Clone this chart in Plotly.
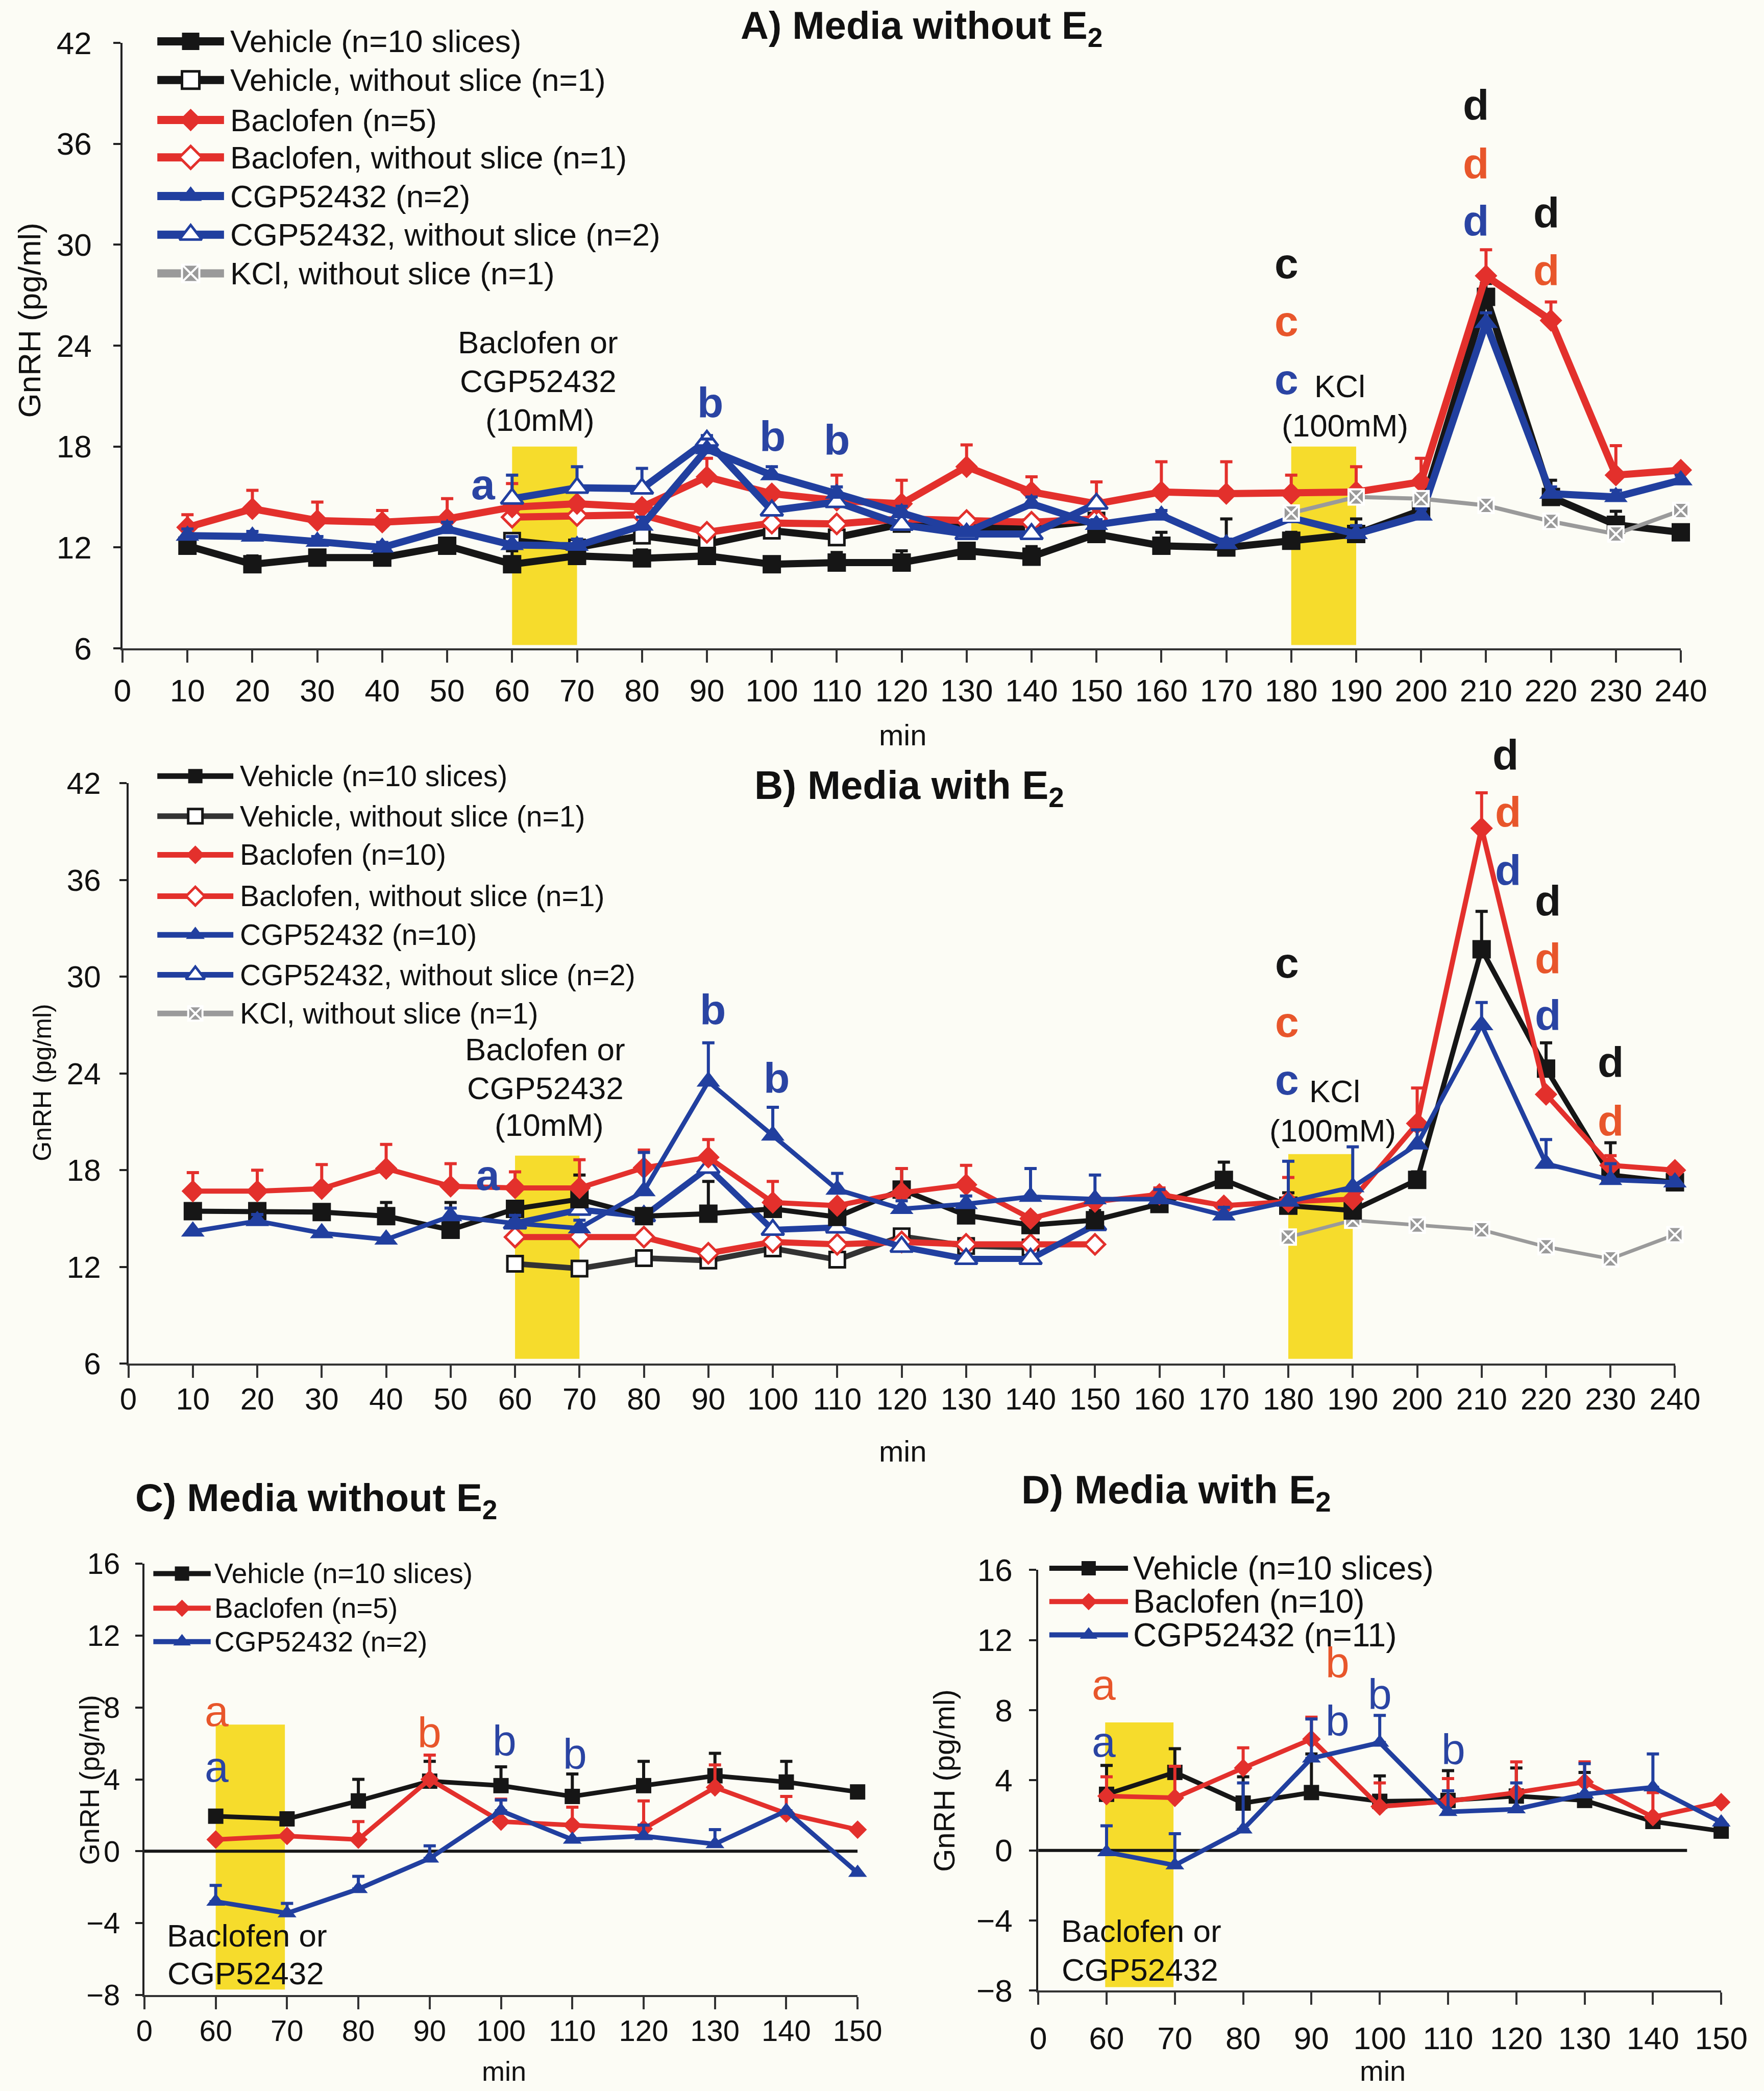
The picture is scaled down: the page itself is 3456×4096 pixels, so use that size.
import plotly.graph_objects as go

# ---------------------------------------------------------------- data
minutes_ab = list(range(10, 250, 10))          # 10 ... 240 min
minutes_ns = list(range(60, 160, 10))          # 60 ... 150 min (media without slice)
minutes_kcl = list(range(180, 250, 10))        # 180 ... 240 min
b_minutes_vns = list(range(60, 150, 10))       # 60 ... 140 min

# A) media without E2
a_vehicle = [12.1, 11.0, 11.4, 11.4, 12.1, 11.0, 11.5, 11.35, 11.5, 11.0, 11.1, 11.1,
             11.8, 11.45, 12.8, 12.1, 12.0, 12.4, 12.8, 14.2, 26.9, 15.0, 13.35, 12.9]
a_vehicle_err = [0.3, 0.5, 0.3, 0.3, 0.4, 0.8, 0.4, 0.5, 0.4, 0.4, 0.6, 0.7,
                 0.4, 0.6, 0.4, 0.8, 1.7, 0.5, 0.9, 1.0, 0.8, 1.0, 0.8, 0.4]
a_baclofen = [13.2, 14.3, 13.6, 13.5, 13.7, 14.4, 14.6, 14.4, 16.2, 15.2, 14.8, 14.6,
              16.8, 15.3, 14.6, 15.3, 15.2, 15.2, 15.3, 15.9, 28.15, 25.5, 16.3, 16.6]
a_baclofen_err = [0.75, 1.1, 1.1, 0.7, 1.2, 1.4, None, None, 1.1, None, 1.5, 1.4,
                  1.3, 0.9, 1.3, 1.8, 1.9, 1.1, 1.5, 1.4, 1.55, 1.1, 1.75, None]
a_cgp = [12.7, 12.65, 12.35, 12.0, 13.1, 12.15, 12.1, 13.3, 17.85, 16.3, 15.2, 14.05,
         12.9, 14.6, 13.35, 13.9, 12.2, 13.75, 12.8, 13.9, 25.35, 15.2, 15.0, 16.0]
a_cgp_err = [0.4, 0.3, 0.3, 0.3, 0.4, 0.5, 0.4, 0.5, 0.6, 0.5, 0.4, 0.4,
             0.3, 0.4, 0.3, 0.3, 0.3, 0.3, 0.5, 0.4, 0.6, 0.4, 0.4, 0.3]
a_vehicle_ns = [12.4, 12.0, 12.7, 12.2, 13.0, 12.6, 13.4, 13.2, 13.2, 13.6]
a_baclofen_ns = [13.8, 13.9, 13.95, 12.9, 13.45, 13.4, 13.7, 13.6, 13.5, 13.7]
a_cgp_ns = [14.9, 15.55, 15.5, 18.35, 14.2, 14.7, 13.35, 12.8, 12.8, 14.6]
a_cgp_ns_err = [1.4, 1.25, 1.2, 0.3, None, 0.3, None, None, None, None]
a_kcl = [14.05, 15.0, 14.9, 14.5, 13.55, 12.8, 14.2]

# B) media with E2
b_vehicle = [15.46, 15.46, 15.4, 15.15, 14.3, 15.6, 16.2, 15.15, 15.3, 15.6, 15.1, 16.8,
             15.2, 14.6, 14.9, 15.9, 17.4, 15.8, 15.5, 17.4, 31.7, 24.3, 17.7, 17.25]
b_vehicle_err = [0.3, 0.3, 0.3, 0.85, 1.7, 0.3, 1.5, 0.3, 2.0, 0.5, 0.4, 1.3,
                 0.5, 0.4, 0.6, 0.5, 1.1, 0.8, 0.6, 0.5, 2.35, 1.6, 2.0, 0.3]
b_baclofen = [16.7, 16.7, 16.85, 18.1, 17.0, 16.9, 16.9, 18.15, 18.8, 16.0, 15.8, 16.6,
              17.1, 15.0, 16.05, 16.5, 15.8, 16.05, 16.2, 20.9, 39.2, 22.7, 18.3, 18.0]
b_baclofen_err = [1.15, 1.3, 1.5, 1.5, 1.4, 1.0, 1.75, 1.1, 1.1, 1.3, None, 1.5,
                  1.2, None, None, 0.4, None, 1.5, None, 2.2, 2.2, None, 0.6, None]
b_cgp = [14.2, 14.85, 14.1, 13.7, 15.15, 14.7, 14.4, 16.7, 23.5, 20.15, 16.8, 15.6,
         15.9, 16.35, 16.2, 16.2, 15.2, 16.05, 16.95, 19.6, 27.0, 18.4, 17.4, 17.25]
b_cgp_err = [None, 0.4, None, None, 0.5, 0.5, 0.5, 2.4, 2.4, 1.75, 1.0, 0.5,
             0.5, 1.75, 1.5, 0.6, 0.5, 2.5, 2.5, 0.9, 1.4, 1.5, 1.0, 0.3]
b_vehicle_ns = [12.2, 11.9, 12.55, 12.4, 13.15, 12.45, 13.9, 13.3, 13.2]
b_baclofen_ns = [13.85, 13.85, 13.85, 12.85, 13.55, 13.4, 13.55, 13.4, 13.4, 13.4]
b_cgp_ns = [14.7, 15.55, 15.15, 18.15, 14.3, 14.45, 13.25, 12.5, 12.5, 14.6]
b_kcl = [13.85, 14.9, 14.6, 14.3, 13.25, 12.5, 14.0]

# C) / D) baseline-subtracted release, 60 ... 150 min
cd_ticks = ["0", "60", "70", "80", "90", "100", "110", "120", "130", "140", "150"]
cd_minutes = ["60", "70", "80", "90", "100", "110", "120", "130", "140", "150"]
c_vehicle = [1.95, 1.8, 2.8, 3.9, 3.65, 3.05, 3.65, 4.2, 3.85, 3.3]
c_vehicle_err = [0.3, 0.3, 1.2, 1.1, 1.05, 1.25, 1.35, 1.25, 1.15, 0.3]
c_baclofen = [0.65, 0.85, 0.65, 4.0, 1.65, 1.45, 1.25, 3.55, 2.1, 1.2]
c_baclofen_err = [None, None, 1.0, 1.35, 1.25, 1.0, 1.55, 1.25, 0.95, None]
c_cgp = [-2.8, -3.45, -2.1, -0.4, 2.25, 0.65, 0.85, 0.4, 2.25, -1.2]
c_cgp_err = [0.9, 0.55, 0.7, 0.7, 0.6, None, 0.6, 0.8, None, None]
d_vehicle = [3.2, 4.45, 2.7, 3.3, 2.8, 2.85, 3.1, 2.85, 1.65, 1.1]
d_vehicle_err = [1.65, 1.35, 1.5, 2.2, 1.45, 1.7, 1.6, 1.6, None, None]
d_baclofen = [3.1, 3.0, 4.7, 6.35, 2.5, 2.8, 3.3, 3.9, 1.9, 2.75]
d_baclofen_err = [1.1, 1.8, 1.15, 1.25, 1.35, 1.3, 1.75, 1.15, 1.4, None]
d_cgp = [-0.1, -0.85, 1.2, 5.25, 6.15, 2.2, 2.35, 3.2, 3.6, 1.6]
d_cgp_err = [1.5, 1.8, 2.65, 2.25, 1.55, 1.2, 1.5, 1.75, 1.9, None]

# ---------------------------------------------------------------- style
FONT = "Liberation Sans, Arial, Helvetica, sans-serif"
BLACK = "#161616"
RED = "#e3302c"
BLUE = "#213f9f"
GRAY = "#9a9a9a"
YELLOW = "#f6dc2c"
LRED = "#e8562b"
LBLUE = "#2a44a3"
WHITE = "#ffffff"
BG = "#fcfcf5"

W, H = 3456, 4096
GW, GH = 1323.0, 1568.0          # layout grid for panel frames, keys and titles


def gx(v):
    return v / GW


def gy(v):
    return 1 - v / GH


fig = go.Figure()


def series(x, y, err, xa, ya, color, symbol, size, lw, fill=None, mlw=0, mlc=None,
           lcolor=None):
    ey = None
    if err is not None:
        ey = dict(type="data", symmetric=False, array=err, arrayminus=[0] * len(err),
                  color=color, thickness=6, width=12)
    fig.add_trace(go.Scatter(
        x=x, y=y, xaxis=xa, yaxis=ya, mode="lines+markers", showlegend=False,
        cliponaxis=False,
        line=dict(color=lcolor or color, width=lw),
        marker=dict(symbol=symbol, size=size, color=fill or color,
                    line=dict(color=mlc or color, width=mlw)),
        error_y=ey))


# ---- panel A
series(minutes_ns, a_vehicle_ns, None, "x", "y", BLACK, "square", 30, 14, WHITE, 5)
series(minutes_ns, a_baclofen_ns, None, "x", "y", RED, "diamond", 30, 14, WHITE, 5)
series(minutes_ab, a_vehicle, a_vehicle_err, "x", "y", BLACK, "square", 36, 14)
series(minutes_ab, a_baclofen, a_baclofen_err, "x", "y", RED, "diamond", 34, 14)
series(minutes_ns, a_cgp_ns, a_cgp_ns_err, "x", "y", BLUE, "triangle-up", 38, 14, WHITE, 5)
series(minutes_ab, a_cgp, a_cgp_err, "x", "y", BLUE, "triangle-up", 40, 14)
series(minutes_kcl, a_kcl, None, "x", "y", GRAY, "square-x", 30, 8, GRAY, 4, WHITE)

# ---- panel B
series(b_minutes_vns, b_vehicle_ns, None, "x2", "y2", "#333333", "square", 30, 11, WHITE, 5, BLACK)
series(minutes_ns, b_baclofen_ns, None, "x2", "y2", RED, "diamond", 30, 12, WHITE, 5)
series(minutes_ns, b_cgp_ns, None, "x2", "y2", BLUE, "triangle-up", 38, 12, WHITE, 5)
series(minutes_kcl, b_kcl, None, "x2", "y2", GRAY, "square-x", 30, 7, GRAY, 4, WHITE)
series(minutes_ab, b_vehicle, b_vehicle_err, "x2", "y2", BLACK, "square", 36, 10)
series(minutes_ab, b_baclofen, b_baclofen_err, "x2", "y2", RED, "diamond", 34, 10)
series(minutes_ab, b_cgp, b_cgp_err, "x2", "y2", BLUE, "triangle-up", 40, 9)

# ---- panel C
series(cd_minutes, c_vehicle, c_vehicle_err, "x3", "y3", BLACK, "square", 30, 9)
series(cd_minutes, c_baclofen, c_baclofen_err, "x3", "y3", RED, "diamond", 28, 9)
series(cd_minutes, c_cgp, c_cgp_err, "x3", "y3", BLUE, "triangle-up", 32, 9)

# ---- panel D
series(cd_minutes, d_vehicle, d_vehicle_err, "x4", "y4", BLACK, "square", 30, 9)
series(cd_minutes, d_baclofen, d_baclofen_err, "x4", "y4", RED, "diamond", 28, 9)
series(cd_minutes, d_cgp, d_cgp_err, "x4", "y4", BLUE, "triangle-up", 32, 9)

# ---------------------------------------------------------------- keys
annotations = []


def key(x0, x1, yrow, label, fsize, color, symbol, size, lw, fill=None, mlw=0, mlc=None,
        lcolor=None, tx=None):
    fig.add_trace(go.Scatter(x=[x0, x1], y=[yrow, yrow], xaxis="x5", yaxis="y5",
                             mode="lines", showlegend=False, hoverinfo="skip",
                             line=dict(color=lcolor or color, width=lw)))
    fig.add_trace(go.Scatter(x=[(x0 + x1) / 2], y=[yrow], xaxis="x5", yaxis="y5",
                             mode="markers", showlegend=False, hoverinfo="skip",
                             marker=dict(symbol=symbol, size=size, color=fill or color,
                                         line=dict(color=mlc or color, width=mlw))))
    annotations.append(dict(x=tx if tx is not None else x1 + 4, y=yrow, xref="x5", yref="y5",
                            text=label, showarrow=False, xanchor="left", yanchor="middle",
                            font=dict(family=FONT, size=fsize, color="#111111")))


full_keys = [
    ("Vehicle (n=10 slices)", BLACK, "square", None, 0, None, None),
    ("Vehicle, without slice (n=1)", BLACK, "square", WHITE, 5, None, None),
    ("Baclofen (n=5)", RED, "diamond", None, 0, None, None),
    ("Baclofen, without slice (n=1)", RED, "diamond", WHITE, 5, None, None),
    ("CGP52432 (n=2)", BLUE, "triangle-up", None, 0, None, None),
    ("CGP52432, without slice (n=2)", BLUE, "triangle-up", WHITE, 5, None, None),
    ("KCl, without slice (n=1)", GRAY, "square-x", GRAY, 4, WHITE, None),
]
rows_a = [31, 60, 90, 118, 147, 176, 205]
for (lab, col, sym, fill, mlw, mlc, lc), yr in zip(full_keys, rows_a):
    sz = 34 if sym != "triangle-up" else 38
    key(118, 168, yr, lab, 62, col, sym, sz, 16, fill, mlw, mlc, lc, tx=172)

b_labels = ["Vehicle (n=10 slices)", "Vehicle, without slice (n=1)", "Baclofen (n=10)",
            "Baclofen, without slice (n=1)", "CGP52432 (n=10)",
            "CGP52432, without slice (n=2)", "KCl, without slice (n=1)"]
rows_b = [582, 612, 641, 672, 701, 731, 760]
for (lab0, col, sym, fill, mlw, mlc, lc), lab, yr in zip(full_keys, b_labels, rows_b):
    sz = 28 if sym != "triangle-up" else 32
    if lab.startswith("Vehicle, "):
        lc = "#333333"
        mlc = BLACK
    key(118, 175, yr, lab, 57, col, sym, sz, 11, fill, mlw, mlc, lc, tx=179)

c_labels = ["Vehicle (n=10 slices)", "Baclofen (n=5)", "CGP52432 (n=2)"]
d_labels = ["Vehicle (n=10 slices)", "Baclofen (n=10)", "CGP52432 (n=11)"]
small_keys = [(BLACK, "square", 28), (RED, "diamond", 26), (BLUE, "triangle-up", 30)]
for (col, sym, sz), lab, yr in zip(small_keys, c_labels, [1180, 1206, 1231]):
    key(115, 158, yr, lab, 55, col, sym, sz, 10, tx=160)
for (col, sym, sz), lab, yr in zip(small_keys, d_labels, [1176, 1201, 1226]):
    key(787, 846, yr, lab, 64, col, sym, sz, 10, tx=849)

# ---------------------------------------------------------------- titles & axis titles


def grid_text(x, y, text, size, bold=False, angle=0, anchor="center"):
    annotations.append(dict(x=x, y=y, xref="x5", yref="y5",
                            text=f"<b>{text}</b>" if bold else text, showarrow=False,
                            xanchor=anchor, yanchor="middle", textangle=angle,
                            font=dict(family=FONT, size=size, color="#111111")))


grid_text(691, 21, "A) Media without E<sub>2</sub>", 76, bold=True)
grid_text(682, 591, "B) Media with E<sub>2</sub>", 78, bold=True)
grid_text(237, 1125, "C) Media without E<sub>2</sub>", 76, bold=True)
grid_text(882, 1119, "D) Media with E<sub>2</sub>", 78, bold=True)

grid_text(677, 551, "min", 58)
grid_text(677, 1088, "min", 58)
grid_text(378, 1553, "min", 54)
grid_text(1037, 1553, "min", 56)

grid_text(22, 240, "GnRH (pg/ml)", 62, angle=-90)
grid_text(32, 812, "GnRH (pg/ml)", 50, angle=-90)
grid_text(67, 1335, "GnRH (pg/ml)", 54, angle=-90)
grid_text(708, 1335, "GnRH (pg/ml)", 58, angle=-90)

# ---------------------------------------------------------------- in-plot labels


def plot_text(xa, ya, x, y, text, color, size, bold=False):
    annotations.append(dict(x=x, y=y, xref=xa, yref=ya,
                            text=f"<b>{text}</b>" if bold else text, showarrow=False,
                            xanchor="center", yanchor="middle",
                            font=dict(family=FONT, size=size, color=color)))


letters_a = [(55.6, 15.75, "a", LBLUE), (90.5, 20.6, "b", LBLUE), (100.1, 18.6, "b", LBLUE),
             (110, 18.4, "b", LBLUE), (179.3, 28.9, "c", BLACK), (179.3, 25.45, "c", LRED),
             (179.3, 22.0, "c", LBLUE), (208.4, 38.3, "d", BLACK), (208.4, 34.8, "d", LRED),
             (208.4, 31.4, "d", LBLUE), (219.3, 31.9, "d", BLACK), (219.3, 28.45, "d", LRED)]
for x, y, t, c in letters_a:
    plot_text("x", "y", x, y, t, c, 84, bold=True)

letters_b = [(55.8, 17.7, "a", LBLUE), (90.7, 27.95, "b", LBLUE), (100.6, 23.7, "b", LBLUE),
             (179.8, 30.85, "c", BLACK), (179.8, 27.2, "c", LRED), (179.8, 23.6, "c", LBLUE),
             (214.1, 40.2, "d", LRED), (214.1, 36.6, "d", LBLUE),
             (220.3, 34.7, "d", BLACK), (220.3, 31.1, "d", LRED), (220.3, 27.6, "d", LBLUE),
             (230, 24.7, "d", BLACK), (230, 21.05, "d", LRED)]
for x, y, t, c in letters_b:
    plot_text("x2", "y2", x, y, t, c, 84, bold=True)

# the top letter at 210 min sits above the 42 pg/ml limit, so it is placed on the page
annotations.append(dict(x=213.7, y=gy(566), xref="x2", yref="paper", text="<b>d</b>",
                        showarrow=False, xanchor="center", yanchor="middle",
                        font=dict(family=FONT, size=84, color=BLACK)))

letters_c = [(1.01, 7.8, "a", LRED), (1.01, 4.7, "a", LBLUE), (4.0, 6.6, "b", LRED),
             (5.05, 6.15, "b", LBLUE), (6.04, 5.4, "b", LBLUE)]
for x, y, t, c in letters_c:
    plot_text("x3", "y3", x, y, t, c, 84)

letters_d = [(0.96, 9.45, "a", LRED), (0.96, 6.2, "a", LBLUE), (4.38, 10.7, "b", LRED),
             (4.38, 7.4, "b", LBLUE), (5.0, 8.9, "b", LBLUE), (6.08, 5.75, "b", LBLUE)]
for x, y, t, c in letters_d:
    plot_text("x4", "y4", x, y, t, c, 84)

for xa, ya, x, y, t in [("x", "y", 64, 24.2, "Baclofen or"), ("x", "y", 64, 21.9, "CGP52432"),
                        ("x", "y", 64.3, 19.6, "(10mM)"), ("x", "y", 187.5, 21.6, "KCl"),
                        ("x", "y", 188.3, 19.25, "(100mM)"),
                        ("x2", "y2", 64.7, 25.5, "Baclofen or"), ("x2", "y2", 64.7, 23.1, "CGP52432"),
                        ("x2", "y2", 65.3, 20.8, "(10mM)"), ("x2", "y2", 187.2, 22.9, "KCl"),
                        ("x2", "y2", 186.9, 20.45, "(100mM)"),
                        ("x3", "y3", 1.44, -4.7, "Baclofen or"), ("x3", "y3", 1.42, -6.8, "CGP52432"),
                        ("x4", "y4", 1.51, -4.6, "Baclofen or"), ("x4", "y4", 1.49, -6.8, "CGP52432")]:
    plot_text(xa, ya, x, y, t, "#111111", 62)

# ---------------------------------------------------------------- shapes
shapes = []
for xr, yr, x0, x1, y0, y1 in [("x", "y", 60, 70, 6.2, 18.0), ("x", "y", 180, 190, 6.2, 18.0),
                               ("x2", "y2", 60, 70, 6.3, 18.9), ("x2", "y2", 180, 190, 6.3, 19.0),
                               ("x3", "y3", 1, 1.97, -7.7, 7.05), ("x4", "y4", 0.98, 1.98, -7.8, 7.3)]:
    shapes.append(dict(type="rect", xref=xr, yref=yr, x0=x0, x1=x1, y0=y0, y1=y1,
                       fillcolor=YELLOW, line=dict(width=0), layer="below"))
shapes.append(dict(type="line", xref="x3", yref="y3", x0=0, x1=10, y0=0, y1=0,
                   line=dict(color=BLACK, width=6), layer="below"))
shapes.append(dict(type="line", xref="x4", yref="y4", x0=0, x1=9.5, y0=0, y1=0,
                   line=dict(color=BLACK, width=6), layer="below"))


# ---------------------------------------------------------------- axes
def xax(domain, anchor, fsize, standoff, **kw):
    d = dict(domain=domain, anchor=anchor, showgrid=False, zeroline=False, showline=True,
             automargin=False,
             linecolor="#333333", linewidth=4, ticks="outside", ticklen=24, tickwidth=4,
             tickcolor="#333333", ticklabelstandoff=standoff,
             tickfont=dict(family=FONT, size=fsize, color="#111111"), fixedrange=True)
    d.update(kw)
    return d


def yax(domain, anchor, fsize, standoff, **kw):
    d = dict(domain=domain, anchor=anchor, showgrid=False, zeroline=False, showline=True,
             automargin=False,
             linecolor="#222222", linewidth=4, ticks="outside", ticklen=14, tickwidth=4,
             tickcolor="#222222", ticklabelstandoff=standoff,
             tickfont=dict(family=FONT, size=fsize, color="#111111"), fixedrange=True)
    d.update(kw)
    return d


layout = dict(
    template="none",
    width=W, height=H, autosize=False,
    margin=dict(l=0, r=0, t=0, b=0, pad=0, autoexpand=False),
    paper_bgcolor=BG, plot_bgcolor="rgba(0,0,0,0)",
    font=dict(family=FONT, color="#111111"),
    showlegend=False,
    xaxis=xax([gx(91.9), gx(1260.6)], "y", 62, 2, range=[0, 240], dtick=10, tick0=0),
    yaxis=yax([gy(486.2), gy(32.2)], "x", 62, 30, range=[6, 42], dtick=6, tick0=6),
    xaxis2=xax([gx(96.3), gx(1256.2)], "y2", 60, -10, range=[0, 240], dtick=10, tick0=0),
    yaxis2=yax([gy(1022.6), gy(587.3)], "x2", 60, 24, range=[6, 42], dtick=6, tick0=6),
    xaxis3=xax([gx(108.3), gx(643.2)], "y3", 58, -8, type="category", categoryorder="array",
               categoryarray=cd_ticks, range=[0, 10]),
    yaxis3=yax([gy(1496.0), gy(1172.6)], "x3", 58, 18, range=[-8, 16], dtick=4, tick0=-8),
    xaxis4=xax([gx(778.7), gx(1290.9)], "y4", 62, 12, type="category", categoryorder="array",
               categoryarray=cd_ticks, range=[0, 10]),
    yaxis4=yax([gy(1492.7), gy(1177.3)], "x4", 62, 20, range=[-8, 16], dtick=4, tick0=-8),
    xaxis5=dict(domain=[0, 1], anchor="y5", range=[0, GW], visible=False, fixedrange=True,
                automargin=False),
    yaxis5=dict(domain=[0, 1], anchor="x5", range=[GH, 0], visible=False, fixedrange=True,
                automargin=False),
    annotations=annotations,
    shapes=shapes,
)
fig.update_layout(**layout)
fig.write_html("out.html")
